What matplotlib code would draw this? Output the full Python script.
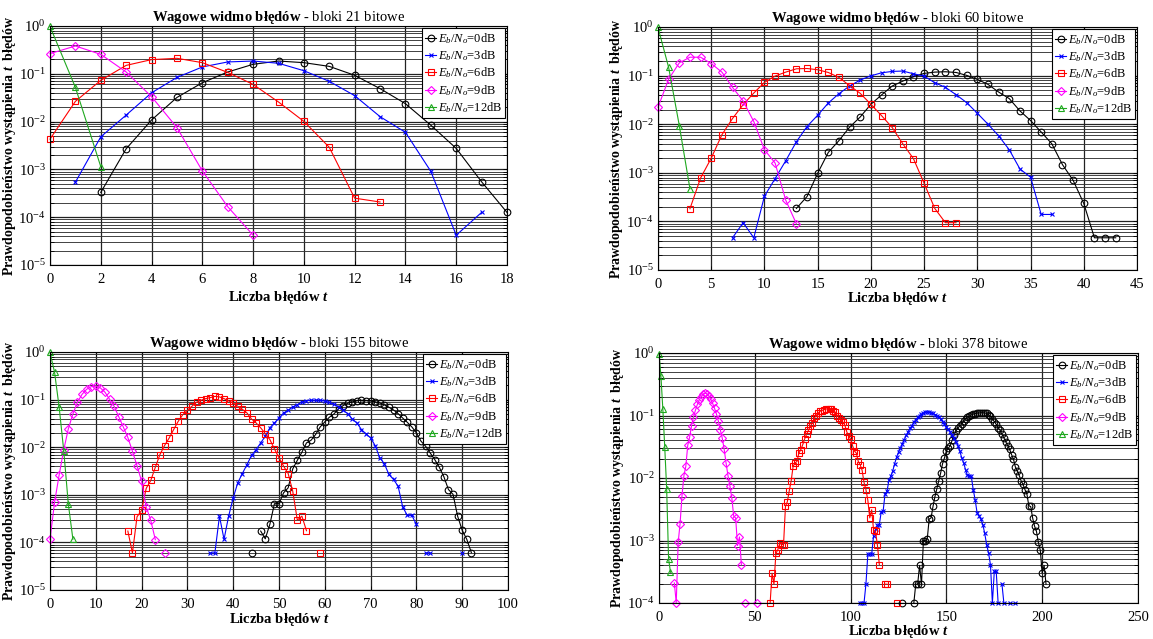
import numpy as np
import matplotlib
matplotlib.use('Agg')
import matplotlib.pyplot as plt
from matplotlib.ticker import LogLocator, LogFormatterSciNotation, NullFormatter, MultipleLocator

# Times-like serif, MATLAB look
plt.rcParams['font.family'] = 'serif'
plt.rcParams['font.serif'] = ['Liberation Serif', 'DejaVu Serif']
plt.rcParams['mathtext.fontset'] = 'custom'
plt.rcParams['mathtext.rm'] = 'Liberation Serif'
plt.rcParams['mathtext.it'] = 'Liberation Serif:italic'
plt.rcParams['mathtext.bf'] = 'Liberation Serif:bold'
plt.rcParams['mathtext.bfit'] = 'Liberation Serif:bold:italic'

snr_labels = ['0dB', '3dB', '6dB', '9dB', '12dB']

# ---- bloki 21 bitowe (first t of each series, then probabilities)
start21 = [2, 1, 0, 0, 0]
p21_0dB = [3.3e-4, 2.7e-3, 1.08e-2, 3.2e-2, 6.5e-2, 0.109, 0.158, 0.185, 0.171, 0.143,
           0.093, 0.049, 0.0237, 8.4e-3, 2.75e-3, 5.5e-4, 1.26e-4]
p21_3dB = [5.4e-4, 4.8e-3, 1.37e-2, 4.0e-2, 8.4e-2, 0.139, 0.177, 0.185, 0.166, 0.116,
           0.0696, 0.0349, 0.0127, 5.96e-3, 9.1e-4, 4.2e-5, 1.26e-4]
p21_6dB = [4.3e-3, 0.0265, 0.073, 0.150, 0.198, 0.211, 0.171, 0.107, 0.060, 0.0257,
           0.0101, 2.9e-3, 2.5e-4, 2.08e-4]
p21_9dB = [0.264, 0.382, 0.255, 0.109, 0.0332, 7.5e-3, 9.3e-4, 1.66e-4, 4.2e-5]
p21_12dB = [0.98, 0.052, 1.14e-3]

# ---- bloki 60 bitowe
start60 = [13, 7, 3, 0, 0]
p60_0dB = [1.85e-4, 3.25e-4, 9.8e-4, 2.63e-3, 4.6e-3, 8.7e-3, 0.0141, 0.0257, 0.040, 0.061,
           0.077, 0.0946, 0.111, 0.118, 0.120, 0.116, 0.101, 0.0835, 0.066, 0.0459,
           0.0336, 0.0188, 0.0119, 6.9e-3, 3.95e-3, 1.47e-3, 7.0e-4, 2.34e-4, 4.6e-5, 4.6e-5,
           4.6e-5]
p60_3dB = [4.6e-5, 9.4e-5, 4.6e-5, 3.3e-4, 7.6e-4, 1.77e-3, 4.35e-3, 8.96e-3, 0.0153, 0.0273,
           0.0425, 0.061, 0.081, 0.099, 0.114, 0.122, 0.124, 0.109, 0.0977, 0.0713,
           0.0573, 0.0405, 0.0278, 0.0168, 0.0100, 5.77e-3, 2.98e-3, 1.2e-3, 8.1e-4, 1.39e-4,
           1.39e-4]
p60_6dB = [1.82e-4, 7.8e-4, 2.0e-3, 6.05e-3, 0.0131, 0.0253, 0.0438, 0.0724, 0.0977, 0.118,
           0.138, 0.140, 0.132, 0.116, 0.0917, 0.062, 0.0431, 0.0257, 0.0150, 8.55e-3,
           3.95e-3, 1.95e-3, 6.1e-4, 1.85e-4, 9.4e-5, 9.4e-5]
p60_9dB = [0.0223, 0.0848, 0.183, 0.239, 0.239, 0.177, 0.118, 0.0573, 0.030, 0.0113,
           2.98e-3, 1.59e-3, 2.73e-4, 8.95e-5]
p60_12dB = [0.98, 0.147, 9.4e-3, 4.7e-4]

# ---- bloki 155 bitowe (0 = no occurrence)
start155 = [44, 35, 17, 0, 0]
p155_0dB = [6e-5, 0, 1.73e-4, 1.19e-4, 2.39e-4, 6.5e-4, 6.5e-4, 1.1e-3, 1.4e-3, 3.5e-3,
            5.3e-3, 7.85e-3, 0.0123, 0.014, 0.0185, 0.0267, 0.034, 0.0426, 0.05, 0.064,
            0.0748, 0.0838, 0.0894, 0.095, 0.097, 0.095, 0.095, 0.0894, 0.085, 0.0773,
            0.069, 0.0607, 0.0508, 0.041, 0.0334, 0.0267, 0.020, 0.0134, 0.0105, 7.6e-3,
            5.5e-3, 3.8e-3, 2.39e-3, 1.29e-3, 1.02e-3, 3.56e-4, 1.8e-4, 1.16e-4, 6.1e-5]
p155_3dB = [6e-5, 6e-5, 3.56e-4, 1.16e-4, 3.56e-4, 8.6e-4, 1.79e-3, 2.8e-3, 4.3e-3, 6.7e-3,
            8.9e-3, 0.0123, 0.017, 0.0255, 0.0324, 0.041, 0.0525, 0.0597, 0.070, 0.0785,
            0.089, 0.095, 0.097, 0.097, 0.097, 0.093, 0.087, 0.08, 0.070, 0.0597,
            0.0508, 0.039, 0.0324, 0.0235, 0.019, 0.0157, 0.0108, 6.0e-3, 4.5e-3, 2.67e-3,
            2.1e-3, 1.52e-3, 5.6e-4, 3.7e-4, 3.7e-4, 2.39e-4, 0, 6e-5, 6e-5, 0,
            0, 0, 0, 0, 0, 6e-5]
p155_6dB = [1.73e-4, 6e-5, 3.45e-4, 4.7e-4, 1.36e-3, 2.0e-3, 3.8e-3, 7.0e-3, 0.0108, 0.0155,
            0.0235, 0.035, 0.0484, 0.0597, 0.0725, 0.088, 0.097, 0.105, 0.110, 0.117,
            0.114, 0.105, 0.094, 0.085, 0.0725, 0.0626, 0.0525, 0.039, 0.0324, 0.0255,
            0.0194, 0.0145, 9.2e-3, 6.0e-3, 4.0e-3, 2.8e-3, 1.19e-3, 2.94e-4, 3.56e-4, 1.76e-4,
            0, 0, 6e-5]
p155_9dB = [1.16e-4, 7.0e-4, 2.63e-3, 8.8e-3, 0.0243, 0.050, 0.089, 0.129, 0.165, 0.187,
            0.194, 0.176, 0.143, 0.102, 0.0724, 0.044, 0.0267, 0.016, 8.2e-3, 4.06e-3,
            1.94e-3, 5.6e-4, 2.9e-4, 1.14e-4, 0, 6e-5]
p155_12dB = [0.98, 0.374, 0.069, 8.5e-3, 6.4e-4, 1.17e-4]

# ---- bloki 378 bitowe
start378 = [127, 105, 58, 8, 0]
p378_0dB = [1e-4, 0, 0, 0, 0, 0, 1e-4, 2e-4, 2e-4, 4e-4,
            2e-4, 1e-3, 1e-3, 1.05e-3, 2.2e-3, 2.3e-3, 3.5e-3, 5.0e-3, 6.7e-3, 9e-3,
            0.012, 0.017, 0.021, 0.027, 0.03, 0.033, 0.04, 0.048, 0.057, 0.063,
            0.069, 0.073, 0.082, 0.088, 0.094, 0.098, 0.102, 0.105, 0.107, 0.109,
            0.11, 0.111, 0.111, 0.11, 0.108, 0.103, 0.097, 0.088, 0.08, 0.072,
            0.064, 0.058, 0.05, 0.044, 0.038, 0.033, 0.029, 0.0237, 0.020, 0.015,
            0.013, 0.011, 9e-3, 7.9e-3, 6.5e-3, 5.6e-3, 3.6e-3, 3.5e-3, 2.3e-3, 1.7e-3,
            1.4e-3, 9.3e-4, 7e-4, 3e-4, 4e-4, 2e-4]
p378_3dB = [1e-4, 1e-4, 1e-4, 2e-4, 6e-4, 6e-4, 6e-4, 1.2e-3, 1.5e-3, 1.75e-3,
            1.8e-3, 2.9e-3, 3e-3, 5.6e-3, 6.1e-3, 9.2e-3, 0.0107, 0.013, 0.017, 0.0215,
            0.026, 0.030, 0.035, 0.041, 0.048, 0.055, 0.062, 0.069, 0.078, 0.086,
            0.093, 0.1, 0.105, 0.109, 0.113, 0.114, 0.113, 0.111, 0.108, 0.103,
            0.099, 0.093, 0.087, 0.08, 0.073, 0.065, 0.06, 0.054, 0.048, 0.043,
            0.038, 0.033, 0.027, 0.021, 0.0175, 0.0135, 0.011, 0.0109, 0.0106, 6.5e-3,
            4.5e-3, 2.8e-3, 2.5e-3, 2.2e-3, 1.8e-3, 1.3e-3, 8.6e-4, 6.3e-4, 4.1e-4, 1e-4,
            3.2e-4, 3.2e-4, 1e-4, 0, 2e-4, 1e-4, 0, 0, 1e-4, 0,
            0, 1e-4]
p378_6dB = [1e-4, 3e-4, 2e-4, 6.2e-4, 7.1e-4, 9e-4, 8.6e-4, 8.6e-4, 3.5e-3, 4.2e-3,
            6.3e-3, 9.1e-3, 0.0154, 0.0174, 0.0184, 0.025, 0.0284, 0.034, 0.042, 0.05,
            0.058, 0.067, 0.076, 0.09, 0.1, 0.108, 0.117, 0.12, 0.124, 0.127,
            0.128, 0.129, 0.126, 0.12, 0.113, 0.1, 0.092, 0.085, 0.078, 0.07,
            0.055, 0.0464, 0.042, 0.033, 0.027, 0.025, 0.0184, 0.0163, 0.0133, 8.5e-3,
            6.5e-3, 4.4e-3, 2.3e-3, 3.1e-3, 1.45e-3, 1.4e-3, 8.4e-4, 4.1e-4, 0, 0,
            2e-4, 2e-4, 0, 0, 0, 0, 1e-4]
p378_9dB = [2.1e-4, 1e-4, 9.3e-4, 1.86e-3, 5.2e-3, 0.0109, 0.0154, 0.0333, 0.0453, 0.0688,
            0.0946, 0.121, 0.15, 0.178, 0.20, 0.22, 0.229, 0.222, 0.205, 0.182,
            0.156, 0.13, 0.105, 0.081, 0.059, 0.0436, 0.0291, 0.0174, 0.0109, 7.5e-3,
            4.8e-3, 2.44e-3, 2.3e-3, 8.3e-4, 1.14e-3, 4.1e-4, 0, 1e-4, 0, 0,
            0, 0, 0, 1e-4]
p378_12dB = [0.98, 0.43, 0.127, 0.031, 6.7e-3, 5.1e-4, 3.1e-4]

# colour, marker, marker size for 0/3/6/9/12 dB
styles = [('k', 'o', 4.8), ('#0000ff', 'x', 3.2), ('#ff0000', 's', 4.0),
          ('#ff00ff', 'D', 4.0), ('#1fa81f', '^', 4.5)]

W, H = 1153, 639
fig = plt.figure(figsize=(W / 100, H / 100), dpi=100)


def px_rect(x0, x1, y0, y1):
    # pixel box (top-left origin) -> figure fraction
    return [x0 / W, 1 - y1 / H, (x1 - x0) / W, (y1 - y0) / H]


def draw_panel(rect, starts, series, bits, xmax, xstep, ymin, ylab_x, xlab_y):
    ax = fig.add_axes(rect)
    for (c, m, ms), t0, vals, lab in zip(styles, starts, series, snr_labels):
        p = np.array(vals, dtype=float)
        p[p <= 0] = np.nan
        t = np.arange(t0, t0 + len(p))
        ax.plot(t, p, color=c, marker=m, ms=ms, mfc='none', mew=0.8, lw=0.8,
                label=r'$E_b/N_o$=' + lab, clip_on=False)
    ax.set_yscale('log')
    ax.set_xlim(0, xmax)
    ax.set_ylim(ymin, 1)
    ax.xaxis.set_major_locator(MultipleLocator(xstep))
    ax.yaxis.set_major_locator(LogLocator(base=10, numticks=10))
    ax.yaxis.set_major_formatter(LogFormatterSciNotation())
    ax.yaxis.set_minor_locator(LogLocator(base=10, subs=np.arange(2, 10), numticks=20))
    ax.yaxis.set_minor_formatter(NullFormatter())
    ax.grid(True, which='major', color='#222222', lw=0.9)
    ax.grid(True, which='minor', axis='y', color='#333333', lw=0.65)
    ax.set_axisbelow(True)
    ax.tick_params(which='both', direction='in', top=True, right=True, labelsize=10.5,
                   length=3, width=0.6)
    ax.tick_params(axis='x', pad=6)
    ax.tick_params(axis='y', pad=3)
    for s in ax.spines.values():
        s.set_color('k')
        s.set_linewidth(0.8)
    ax.set_title(r'$\mathbf{Wagowe\ widmo\ błędów}$ - bloki %d bitowe' % bits,
                 fontsize=10.5, pad=3)
    ax.set_xlabel(r'Liczba błędów $\mathbfit{t}$', fontsize=10.5, fontweight='bold')
    ax.set_ylabel(r'Prawdopodobieństwo wystąpienia $\mathbfit{t}$  błędów',
                  fontsize=10, fontweight='bold')
    ax.xaxis.set_label_coords(0.5, xlab_y)
    ax.yaxis.set_label_coords(ylab_x, 0.5)
    leg = ax.legend(loc='upper right', fontsize=9, borderaxespad=0.15, fancybox=False,
                    framealpha=1, edgecolor='k', handlelength=0.9, handletextpad=0.1,
                    labelspacing=0.2, borderpad=0.25)
    leg.get_frame().set_linewidth(0.8)
    return ax


draw_panel(px_rect(50, 507, 26, 265), start21,
           [p21_0dB, p21_3dB, p21_6dB, p21_9dB, p21_12dB], 21, 18, 2, 1e-5, -0.069, -0.1)
draw_panel(px_rect(658, 1137, 27, 270), start60,
           [p60_0dB, p60_3dB, p60_6dB, p60_9dB, p60_12dB], 60, 45, 5, 1e-5, -0.068, -0.084)
draw_panel(px_rect(50, 508, 352, 590), start155,
           [p155_0dB, p155_3dB, p155_6dB, p155_9dB, p155_12dB], 155, 100, 10, 1e-5, -0.07, -0.09)
draw_panel(px_rect(659, 1138, 353, 603), start378,
           [p378_0dB, p378_3dB, p378_6dB, p378_9dB, p378_12dB], 378, 250, 50, 1e-4, -0.068, -0.078)

fig.savefig('out.png', dpi=100)
